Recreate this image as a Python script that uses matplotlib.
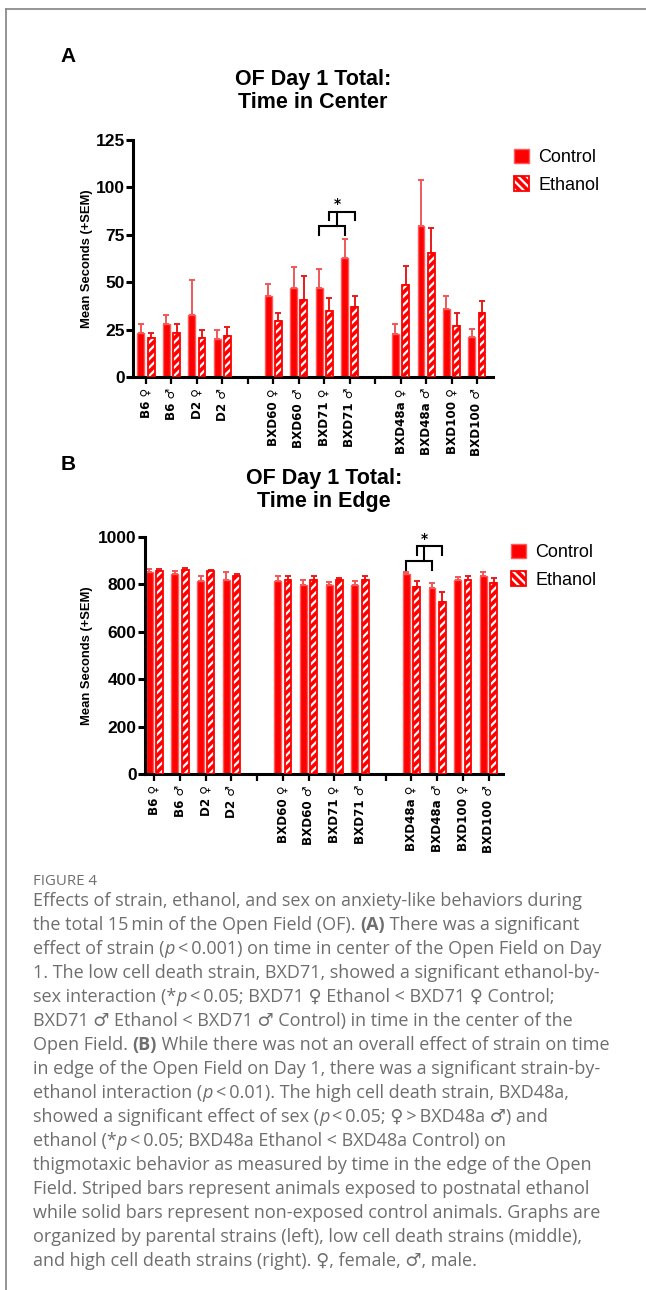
"""OF Day 1 Total: time in center / time in edge, with figure caption."""

import matplotlib
matplotlib.use("Agg")
import matplotlib.pyplot as plt
from matplotlib.lines import Line2D
from matplotlib.patches import Patch
import numpy as np

W, H = 646, 1290
RED = "#ff0000"
CTRL_EDGE = "#ff5a5a"
CTRL_ERR = "#f05858"
ETH_ERR = "#e81a1a"
SANS = ["Liberation Sans", "DejaVu Sans"]

# ---------------------------------------------------------------- data
strains = ["B6 ♀", "B6 ♂", "D2 ♀", "D2 ♂",
           "BXD60 ♀", "BXD60 ♂", "BXD71 ♀", "BXD71 ♂",
           "BXD48a ♀", "BXD48a ♂", "BXD100 ♀", "BXD100 ♂"]
# slot on the category axis (4 and 9 are empty separators)
slots = [0, 1, 2, 3, 5, 6, 7, 8, 10, 11, 12, 13]

center_ctrl = [23.0, 27.8, 32.7, 19.9, 42.9, 46.8, 46.8, 62.6, 22.7, 79.6, 35.7, 21.3]
center_ctrl_sem = [5.0, 5.1, 18.3, 4.9, 6.0, 11.4, 10.2, 10.0, 5.3, 24.3, 7.2, 3.8]
center_eth = [20.4, 23.0, 20.7, 21.8, 29.5, 40.6, 35.0, 37.1, 48.5, 65.2, 26.9, 33.9]
center_eth_sem = [3.0, 5.0, 4.3, 4.7, 4.1, 12.8, 6.5, 5.8, 10.2, 13.6, 6.7, 6.3]

edge_ctrl = [852, 845, 813, 820, 815, 798, 798, 798, 843, 784, 817, 834]
edge_ctrl_sem = [13, 10, 21, 31, 19, 22, 14, 15, 10, 24, 14, 18]
edge_eth = [855, 859, 855, 837, 820, 820, 819, 817, 791, 725, 820, 808]
edge_eth_sem = [10, 10, 7, 8, 14, 17, 7, 17, 22, 41, 16, 17]

plt.rcParams["hatch.linewidth"] = 1.6

fig = plt.figure(figsize=(W / 100, H / 100), dpi=100)


def px_rect(left, right, bottom, top):
    return [left / W, 1 - bottom / H, (right - left) / W, (bottom - top) / H]


def bar_panel(ax, ctrl, ctrl_sem, eth, eth_sem, ymax, step, xlim):
    x = np.array(slots, dtype=float)
    w, off = 0.27, 0.2
    ax.bar(x - off, ctrl, w, color=RED, edgecolor=CTRL_EDGE, lw=1.0, zorder=2)
    ax.bar(x + off, eth, w, color=RED, edgecolor="white", hatch="////", lw=0, zorder=2)
    ax.bar(x + off, eth, w, fill=False, edgecolor=RED, lw=1.3, zorder=3)
    ax.errorbar(x - off, ctrl, yerr=[np.zeros(len(ctrl)), ctrl_sem], fmt="none",
                ecolor=CTRL_ERR, elinewidth=1.4, capsize=2.4, capthick=1.4, zorder=1)
    ax.errorbar(x + off, eth, yerr=[np.zeros(len(eth)), eth_sem], fmt="none",
                ecolor=ETH_ERR, elinewidth=1.4, capsize=2.4, capthick=1.4, zorder=1)

    ax.set_xlim(*xlim)
    ax.set_ylim(0, ymax)
    ax.set_yticks(np.arange(0, ymax + 1, step))
    labels = {s: lab for s, lab in zip(slots, strains)}
    ax.set_xticks(range(14))
    ax.set_xticklabels([labels.get(i, "") for i in range(14)], rotation=90,
                       fontsize=8.6, fontweight="bold", family="DejaVu Sans")
    for lab in ax.get_yticklabels():
        lab.set_fontsize(12.5)
        lab.set_fontweight("bold")
        lab.set_family(SANS)
    for side in ("top", "right"):
        ax.spines[side].set_visible(False)
    for side in ("left", "bottom"):
        ax.spines[side].set_linewidth(2.2)
    ax.tick_params(axis="y", length=5, width=2.2, pad=1)
    ax.tick_params(axis="x", length=5, width=1.6, pad=3)
    ax.set_ylabel("Mean Seconds (+SEM)", fontsize=9.4, fontweight="bold", family=SANS)

    handles = [Patch(facecolor=RED, edgecolor=CTRL_EDGE, lw=1.0),
               (Patch(facecolor=RED, edgecolor="white", hatch="\\\\\\\\", lw=0),
                Patch(fill=False, edgecolor=RED, lw=1.3))]
    return handles


def bracket(ax, x0, x1, y, leg):
    ax.plot([x0, x0, x1, x1], [leg, y, y, leg], color="black", lw=1.5,
            solid_joinstyle="miter", clip_on=False)


LEG = dict(loc="upper left", bbox_transform=fig.transFigure, frameon=False,
           handlelength=0.85, handleheight=0.85, handletextpad=0.5,
           labelspacing=0.55, borderpad=0, borderaxespad=0,
           prop={"family": SANS, "size": 13})

# ---------------------------------------------------------------- panel A
axA = fig.add_axes(px_rect(133, 493, 377, 140))
hA = bar_panel(axA, center_ctrl, center_ctrl_sem, center_eth, center_eth_sem,
               125, 25, (-0.51, 13.63))
axA.yaxis.set_label_coords(-0.11, 0.5)
bracket(axA, 6.8, 7.8, 79.5, 75)
bracket(axA, 7.2, 8.2, 87, 83)
axA.plot([7.5, 7.5], [79.5, 87], color="black", lw=1.5)
axA.text(7.5, 87.5, "*", ha="center", va="bottom", fontsize=10, fontweight="bold")
axA.legend(hA, ["Control", "Ethanol"], bbox_to_anchor=(514 / W, 1 - 149 / H), **LEG)

# ---------------------------------------------------------------- panel B
axB = fig.add_axes(px_rect(145, 503, 774, 537))
hB = bar_panel(axB, edge_ctrl, edge_ctrl_sem, edge_eth, edge_eth_sem,
               1000, 200, (-0.36, 13.56))
axB.yaxis.set_label_coords(-0.144, 0.5)
bracket(axB, 9.8, 10.8, 897, 859)
bracket(axB, 10.2, 11.2, 960, 925)
axB.plot([10.5, 10.5], [897, 960], color="black", lw=1.5)
axB.text(10.5, 962, "*", ha="center", va="bottom", fontsize=10, fontweight="bold")
axB.legend(hB, ["Control", "Ethanol"], bbox_to_anchor=(511 / W, 1 - 544 / H), **LEG)

# titles and panel letters
fig.text(313 / W, 1 - 91 / H, "OF Day 1 Total:\nTime in Center", ha="center",
         va="center", fontsize=15.5, fontweight="bold", family=SANS, linespacing=1.1)
fig.text(324 / W, 1 - 490 / H, "OF Day 1 Total:\nTime in Edge", ha="center",
         va="center", fontsize=15.5, fontweight="bold", family=SANS, linespacing=1.1)
fig.text(68 / W, 1 - 57 / H, "A", ha="center", va="center", fontsize=15,
         fontweight="bold", family=SANS)
fig.text(68 / W, 1 - 465 / H, "B", ha="center", va="center", fontsize=15,
         fontweight="bold", family=SANS)

# page frame (top and left rules)
fig.add_artist(Line2D([6 / W, 1], [1 - 9 / H, 1 - 9 / H], color="#8c8c8c", lw=1.3))
fig.add_artist(Line2D([6 / W, 6 / W], [0, 1 - 9 / H], color="#8c8c8c", lw=1.3))

# ---------------------------------------------------------------- caption
CAP = ["Open Sans", "DejaVu Sans"]
CAP_COLOR = "#6e6e6e"
CAP_SIZE = 13
B = {"fontweight": "bold"}
I = {"fontstyle": "italic"}
N = {}
caption = [
    [("Effects of strain, ethanol, and sex on anxiety-like behaviors during", N)],
    [("the total 15\u2009min of the Open Field (OF). ", N), ("(A)", B),
     (" There was a significant", N)],
    [("effect of strain (", N), ("p", I),
     ("\u2009<\u20090.001) on time in center of the Open Field on Day", N)],
    [("1. The low cell death strain, BXD71, showed a significant ethanol-by-", N)],
    [("sex interaction (*", N), ("p", I),
     ("\u2009<\u20090.05; BXD71 ♀ Ethanol < BXD71 ♀ Control;", N)],
    [("BXD71 ♂ Ethanol < BXD71 ♂ Control) in time in the center of the", N)],
    [("Open Field. ", N), ("(B)", B),
     (" While there was not an overall effect of strain on time", N)],
    [("in edge of the Open Field on Day 1, there was a significant strain-by-", N)],
    [("ethanol interaction (", N), ("p", I),
     ("\u2009<\u20090.01). The high cell death strain, BXD48a,", N)],
    [("showed a significant effect of sex (", N), ("p", I),
     ("\u2009<\u20090.05; ♀\u2009>\u2009BXD48a ♂) and", N)],
    [("ethanol (*", N), ("p", I),
     ("\u2009<\u20090.05; BXD48a Ethanol < BXD48a Control) on", N)],
    [("thigmotaxic behavior as measured by time in the edge of the Open", N)],
    [("Field. Striped bars represent animals exposed to postnatal ethanol", N)],
    [("while solid bars represent non-exposed control animals. Graphs are", N)],
    [("organized by parental strains (left), low cell death strains (middle),", N)],
    [("and high cell death strains (right). ♀, female, ♂, male.", N)],
]

renderer = fig.canvas.get_renderer()


def advance(txt, style):
    kw = dict(fontsize=CAP_SIZE, family=CAP, **style)
    t1 = fig.text(0, 0, "|" + txt + "|", **kw)
    t2 = fig.text(0, 0, "||", **kw)
    w = t1.get_window_extent(renderer).width - t2.get_window_extent(renderer).width
    t1.remove()
    t2.remove()
    return w


fig.text(33 / W, 1 - 885 / H, "FIGURE 4", fontsize=10.8, color=CAP_COLOR,
         family=CAP, va="baseline", ha="left")
y0, dy = 906, 24.0
for i, segs in enumerate(caption):
    x = 33.0
    y = y0 + i * dy
    for txt, style in segs:
        fig.text(x / W, 1 - y / H, txt, fontsize=CAP_SIZE, color=CAP_COLOR,
                 family=CAP, va="baseline", ha="left", **style)
        x += advance(txt, style)

fig.savefig("out.png", dpi=100)
